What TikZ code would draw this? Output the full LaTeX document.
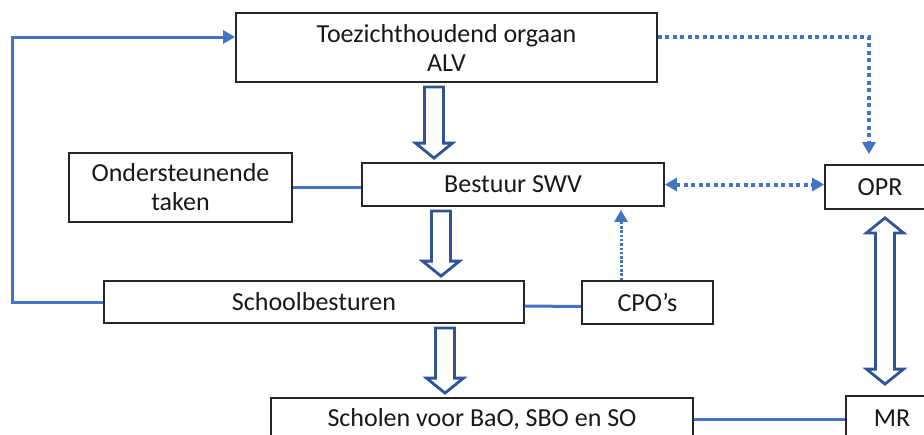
\documentclass[tikz,border=0pt]{standalone}
\usepackage{fontspec}
\setmainfont{Carlito}
\usetikzlibrary{arrows.meta, calc}
\definecolor{lineblue}{HTML}{4472C4}
\definecolor{arrowblue}{HTML}{2F5597}
% hollow block arrow from node #1 down to node #2, at x = #3
\newcommand{\hollowdown}[3]{%
  \draw[hollow] let \p1=(#1.south), \p2=(#2.north) in
    (#3pt-9.5pt,\y1-4pt) -- (#3pt+9.5pt,\y1-4pt) -- (#3pt+9.5pt,\y2+19pt)
    -- (#3pt+18.5pt,\y2+19pt) -- (#3pt,\y2+4pt) -- (#3pt-18.5pt,\y2+19pt)
    -- (#3pt-9.5pt,\y2+19pt) -- cycle;}
% hollow block arrow with two heads between node #1 and node #2, at x = #3
\newcommand{\hollowboth}[3]{%
  \draw[hollow] let \p1=(#1.south), \p2=(#2.north) in
    (#3pt,\y1-8pt) -- (#3pt+18.5pt,\y1-23pt) -- (#3pt+9.5pt,\y1-23pt)
    -- (#3pt+9.5pt,\y2+26pt) -- (#3pt+18.5pt,\y2+26pt) -- (#3pt,\y2+11pt)
    -- (#3pt-18.5pt,\y2+26pt) -- (#3pt-9.5pt,\y2+26pt) -- (#3pt-9.5pt,\y1-23pt)
    -- (#3pt-18.5pt,\y1-23pt) -- cycle;}

\begin{document}
\begin{tikzpicture}[x=1pt, y=-1pt,
    box/.style={draw=black!85, line width=1.8pt, fill=white, inner sep=0pt,
      align=center, text=black!90, font=\fontsize{26}{29}\selectfont},
    link/.style={draw=lineblue, line width=3pt},
    dotlink/.style={draw=lineblue, line width=4pt, dash pattern=on 4pt off 3.5pt, line join=miter},
    dotthin/.style={draw=lineblue, line width=3pt, dash pattern=on 2.5pt off 1.8pt},
    tip/.style={-{Triangle[length=12pt, width=13pt]}},
    tips/.style={{Triangle[length=12pt, width=13pt]}-{Triangle[length=12pt, width=13pt]}},
    hollow/.style={draw=arrowblue, line width=2.8pt, fill=white, line join=miter}]
    \useasboundingbox (0,0) rectangle (924,434);
    \clip (0,0) rectangle (924,434);

    \node[box, minimum width=421pt, minimum height=69pt] (alv) at (446.5,47.5) {Toezichthoudend orgaan\\ALV};
    \node[box, minimum width=223pt, minimum height=69pt] (ondst) at (180.5,187.5) {Ondersteunende\\taken};
    \node[box, minimum width=302pt, minimum height=43pt] (swv) at (513,184.5) {Bestuur SWV};
    \node[box, minimum width=110pt, minimum height=44pt] (opr) at (880,187) {OPR};
    \node[box, minimum width=420pt, minimum height=42pt] (schb) at (314,302) {Schoolbesturen};
    \node[box, minimum width=131pt, minimum height=43pt] (cpo) at (647.5,302.5) {CPO’s};
    \node[box, minimum width=422pt, minimum height=43pt] (scholen) at (482,419.5) {Scholen voor BaO, SBO en SO};
    \node[box, minimum width=92pt, minimum height=44pt] (mr) at (892,418) {MR};

    \coordinate (lbend) at (12,37);
    \coordinate (rbend) at (869,37);

    \draw[link, tip] (schb.west) -| (lbend) -- (lbend -| alv.west);% back to the ALV
    \draw[dotlink, tip, shorten >=10pt] (rbend -| alv.east) -- (rbend) -- (rbend |- opr.north);
    \draw[dotlink, tips] (swv.east) -- (swv.east -| opr.west);
    \draw[dotthin, tip, shorten >=3pt] ([xshift=-26.5pt]cpo.north) -- ([xshift=-26.5pt]cpo.north |- swv.south);
    \draw[link] (ondst.east) -- (ondst.east -| swv.west);
    \draw[link] ([yshift=-4pt]schb.east) -- ([yshift=-4pt]cpo.west);
    \draw[link] (scholen.east) -- (scholen.east -| mr.west);

    \hollowdown{alv}{swv}{434}
    \hollowdown{swv}{schb}{441}
    \hollowdown{schb}{scholen}{445}
    \hollowboth{opr}{mr}{885}
\end{tikzpicture}
\end{document}
